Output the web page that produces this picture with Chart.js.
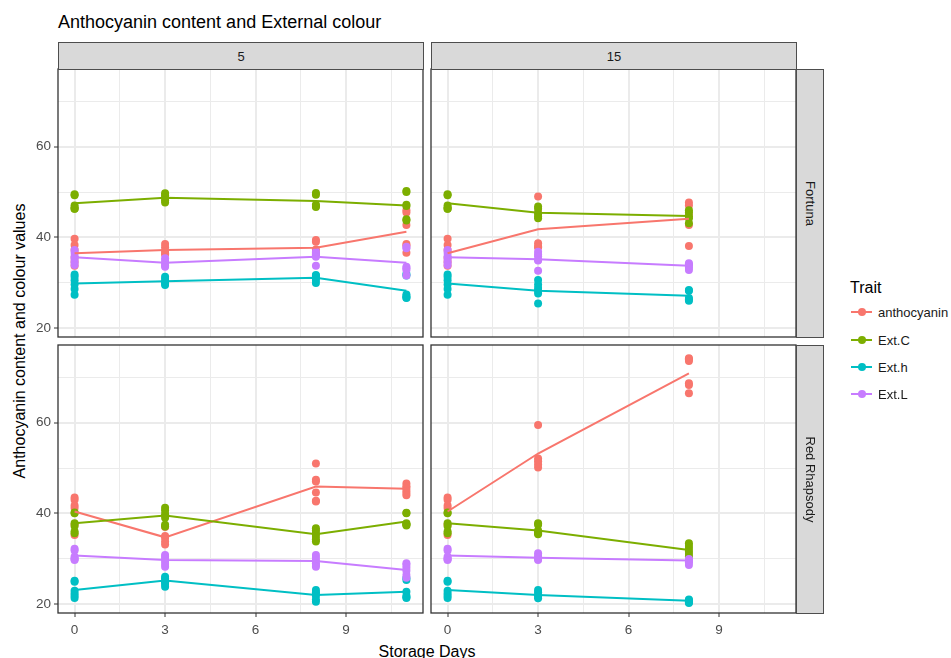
<!DOCTYPE html>
<html>
<head>
<meta charset="utf-8">
<script src="https://cdn.jsdelivr.net/npm/chart.js@4.4.0/dist/chart.umd.min.js"></script>
<style>
  html, body { margin:0; padding:0; background:#fff; }
  body { width:951px; height:658px; position:relative; overflow:hidden; font-family:"Liberation Sans", Arial, sans-serif; }
  canvas { position:absolute; }
  .txt { position:absolute; white-space:nowrap; line-height:1; }
  .strip { position:absolute; background:#D9D9D9; border:1px solid #4d4d4d; box-sizing:border-box; display:flex; align-items:center; justify-content:center; color:#1A1A1A; font-size:13px; }
  .legrow { position:absolute; left:851px; height:16px; display:flex; align-items:center; }
  .key { position:relative; width:21px; height:16px; }
  .key .ln { position:absolute; left:0; top:7px; width:21px; height:2px; }
  .key .pt { position:absolute; left:6.5px; top:4px; width:8px; height:8px; border-radius:50%; }
  .legrow span { margin-left:6px; font-size:13px; color:#1A1A1A; }
</style>
</head>
<body>
<div class="txt" style="left:58px; top:13px; font-size:18px; color:#000;">Anthocyanin content and External colour</div>
<div class="txt" style="left:427px; top:643.5px; font-size:16px; color:#000; transform:translateX(-50%);">Storage Days</div>
<div class="txt" style="left:20px; top:341px; font-size:16px; color:#000; transform:translate(-50%,-50%) rotate(-90deg);">Anthocyanin content and colour values</div>

<canvas id="cTL"></canvas>
<canvas id="cTR"></canvas>
<canvas id="cBL"></canvas>
<canvas id="cBR"></canvas>

<div class="strip" style="left:58px; top:42px; width:366px; height:28px;">5</div>
<div class="strip" style="left:431px; top:42px; width:366px; height:28px;">15</div>
<div class="strip" style="left:796px; top:69px; width:28px; height:269px;"><span style="transform:rotate(90deg); white-space:nowrap;">Fortuna</span></div>
<div class="strip" style="left:796px; top:345px; width:28px; height:269px;"><span style="transform:rotate(90deg); white-space:nowrap;">Red Rhapsody</span></div>

<div class="txt" style="left:850px; top:280px; font-size:16px; color:#000;">Trait</div>
<div id="legend"></div>

<script>
// ---------------- data ----------------
const traits = ['anthocyanin', 'Ext.C', 'Ext.h', 'Ext.L'];
const traitColors = ['#F8766D', '#7CAE00', '#00BFC4', '#C77CFF'];
const days5 = [0, 3, 8, 11];
const days15 = [0, 3, 8];
const xTickLabels = [0, 3, 6, 9];
const yTickLabels = [20, 40, 60];
const temperatures = ['5', '15'];
const cultivars = ['Fortuna', 'Red Rhapsody'];

// Fortuna, 5
const fortuna5AnthMean = [36.5, 37.2, 37.7, 41.25];
const fortuna5ExtCMean = [47.5, 48.75, 48.0, 47.0];
const fortuna5ExthMean = [29.8, 30.3, 31.1, 28.2];
const fortuna5ExtLMean = [35.6, 34.4, 35.7, 34.4];
const fortuna5AnthPts = [[39.7,38.3,37.2,35.5,34.6,33.7],[38.5,37.8,37.0,36.5,36.2],[39.4,39.0,37.3,36.6,36.2],[46.0,45.5,42.7,38.5,38.2,36.6]];
const fortuna5ExtCPts = [[49.5,49.3,47.0,46.6,46.3,46.3],[49.7,49.3,48.8,48.2,47.7],[49.8,49.4,47.2,46.9,46.7],[50.2,50.0,47.2,46.9,44.0,43.7]];
const fortuna5ExthPts = [[31.8,31.3,30.5,29.6,28.6,27.3],[31.3,30.8,30.2,29.8,29.5],[31.7,31.5,31.1,30.6,29.9],[31.9,31.6,27.4,27.0,26.7,26.6]];
const fortuna5ExtLPts = [[37.2,36.6,35.8,35.2,34.5,33.9],[35.4,34.8,34.2,33.8,33.5],[36.8,36.4,36.0,35.7,33.75],[37.9,37.6,33.5,33.2,32.8,31.6]];

// Fortuna, 15
const fortuna15AnthMean = [36.5, 41.8, 44.1];
const fortuna15ExtCMean = [47.5, 45.4, 44.7];
const fortuna15ExthMean = [29.8, 28.2, 27.1];
const fortuna15ExtLMean = [35.6, 35.15, 33.7];
const fortuna15AnthPts = [[39.7,38.3,37.2,35.5,34.6,33.7],[49.0,45.5,38.7,38.0,37.8],[47.7,47.0,45.0,42.7,38.1]];
const fortuna15ExtCPts = [[49.5,49.3,47.0,46.6,46.3,46.3],[46.8,46.3,45.2,44.6,44.2],[46.0,45.5,44.6,44.2,43.1]];
const fortuna15ExthPts = [[31.8,31.3,30.5,29.6,28.6,27.3],[30.6,29.6,28.8,28.2,27.6,25.4],[28.4,28.2,26.6,26.3,26.0]];
const fortuna15ExtLPts = [[37.2,36.6,35.8,35.2,34.5,33.9],[36.8,36.2,35.8,35.0,34.9,32.6],[34.3,34.0,33.7,33.3,32.8]];

// Red Rhapsody, 5
const rr5AnthMean = [40.4, 34.7, 45.9, 45.45];
const rr5ExtCMean = [37.8, 39.5, 35.4, 38.2];
const rr5ExthMean = [23.1, 25.15, 22.0, 22.7];
const rr5ExtLMean = [30.7, 29.7, 29.5, 27.5];
const rr5AnthPts = [[43.5,43.0,41.7,41.2,37.5,35.2],[37.0,35.0,34.6,33.8,33.1],[51.0,47.4,47.0,44.6,42.8,42.6],[46.6,46.0,45.6,45.0,44.5,44.0]];
const rr5ExtCPts = [[40.2,40.0,37.8,37.2,36.0,35.6],[41.25,40.6,39.8,39.0,37.5,37.1],[36.7,36.2,35.6,35.0,34.3,33.8],[40.1,40.0,37.8,37.6,37.5,37.3]];
const rr5ExthPts = [[25.1,24.9,22.9,22.3,21.8,21.3],[26.0,25.6,25.2,24.8,24.4,23.8],[23.1,22.6,22.2,21.8,21.0,20.5],[25.7,25.3,22.7,21.8,21.5,21.3]];
const rr5ExtLPts = [[32.2,31.8,30.4,30.0,29.9,29.7],[30.8,30.4,29.9,29.5,28.8,28.2],[30.8,30.2,29.6,29.0,28.6,28.2],[29.0,28.6,28.0,27.3,26.4,25.8]];

// Red Rhapsody, 15
const rr15AnthMean = [40.4, 53.2, 70.9];
const rr15ExtCMean = [37.8, 36.2, 31.9];
const rr15ExthMean = [23.1, 22.0, 20.7];
const rr15ExtLMean = [30.7, 30.2, 29.6];
const rr15AnthPts = [[43.5,43.0,41.7,41.2,37.5,35.2],[59.5,52.1,51.5,50.8,50.1],[74.2,74.0,73.6,68.7,68.3,66.5]];
const rr15ExtCPts = [[40.2,40.0,37.8,37.2,36.0,35.6],[37.8,37.5,36.2,35.8,35.6,35.4],[33.4,32.8,32.2,31.6,31.0,30.4]];
const rr15ExthPts = [[25.1,24.9,22.9,22.3,21.8,21.3],[23.1,22.6,22.0,21.6,21.25],[21.0,20.8,20.6,20.4,20.2]];
const rr15ExtLPts = [[32.2,31.8,30.4,30.0,29.9,29.7],[31.2,30.6,30.2,29.9,29.7],[29.9,29.7,29.5,29.2,28.6]];

// ---------------- build ----------------
const FONT = '"Liberation Sans", Arial, sans-serif';
const xMin = -0.55, xMax = 11.55, yMin = 18.0, yMax = 77.15;
const xGrid = [0, 1.5, 3, 4.5, 6, 7.5, 9, 10.5];
const yGrid = [20, 30, 40, 50, 60, 70];

function buildDatasets(days, means, pts) {
  const ds = [];
  for (let t = 0; t < traits.length; t++) {
    const p = [];
    days.forEach((d, i) => pts[t][i].forEach(v => p.push({x: d, y: v})));
    ds.push({type: 'scatter', label: traits[t], data: p, backgroundColor: traitColors[t], borderWidth: 0,
             pointRadius: 4, pointHoverRadius: 4, order: 20 - t});
  }
  for (let t = 0; t < traits.length; t++) {
    ds.push({type: 'line', label: traits[t] + ' mean', data: days.map((d, i) => ({x: d, y: means[t][i]})),
             borderColor: traitColors[t], borderWidth: 2, pointRadius: 0, pointHoverRadius: 0, fill: false,
             tension: 0, order: 10 - t});
  }
  return ds;
}

const borderPlugin = {
  id: 'panelBorder',
  afterDraw(chart) {
    const a = chart.chartArea, c = chart.ctx;
    c.save();
    c.strokeStyle = '#333333';
    c.lineWidth = 1.3;
    c.strokeRect(a.left, a.top, a.right - a.left, a.bottom - a.top);
    c.restore();
  }
};

function zeroPad(s) { s.paddingLeft = 0; s.paddingRight = 0; s.paddingTop = 0; s.paddingBottom = 0; }

function makePanel(id, rect, showX, showY, datasets) {
  const cv = document.getElementById(id);
  const cl = showY ? 0 : rect.L - 6;
  const ct = rect.T - 6;
  const cw = rect.R + 6 - cl;
  const ch = (showX ? rect.B + 34 : rect.B + 6) - ct;
  cv.width = cw; cv.height = ch;
  cv.style.left = cl + 'px'; cv.style.top = ct + 'px';
  cv.style.width = cw + 'px'; cv.style.height = ch + 'px';
  const isMajX = v => xTickLabels.includes(v);
  const isMajY = v => yTickLabels.includes(v);
  new Chart(cv, {
    type: 'scatter',
    data: {datasets},
    options: {
      animation: false, responsive: false, devicePixelRatio: 1,
      events: [],
      layout: {autoPadding: false, padding: {left: showY ? 0 : 6, right: 6, top: 6, bottom: showX ? 0 : 6}},
      plugins: {legend: {display: false}, tooltip: {enabled: false}},
      scales: {
        x: {
          type: 'linear', min: xMin, max: xMax,
          afterBuildTicks: s => { s.ticks = xGrid.map(v => ({value: v})); },
          afterFit: s => { s.height = showX ? 34 : 0; zeroPad(s); },
          border: {display: false},
          grid: {
            color: '#EBEBEB',
            lineWidth: c => (c.tick && isMajX(c.tick.value)) ? 2 : 1,
            drawTicks: showX, tickLength: 4, tickWidth: 1,
            tickColor: c => (c.tick && isMajX(c.tick.value)) ? '#333333' : 'rgba(0,0,0,0)'
          },
          ticks: {display: showX, autoSkip: false, maxRotation: 0, padding: 5, color: '#4D4D4D',
                  font: {family: FONT, size: 13.5},
                  callback: v => isMajX(v) ? String(v) : ''}
        },
        y: {
          type: 'linear', min: yMin, max: yMax,
          afterBuildTicks: s => { s.ticks = yGrid.map(v => ({value: v})); },
          afterFit: s => { s.width = showY ? rect.L : 0; zeroPad(s); },
          border: {display: false},
          grid: {
            color: '#EBEBEB',
            lineWidth: c => (c.tick && isMajY(c.tick.value)) ? 2 : 1,
            drawTicks: showY, tickLength: 4, tickWidth: 1,
            tickColor: c => (c.tick && isMajY(c.tick.value)) ? '#333333' : 'rgba(0,0,0,0)'
          },
          ticks: {display: showY, autoSkip: false, padding: 3, color: '#4D4D4D',
                  font: {family: FONT, size: 13.5},
                  callback: v => isMajY(v) ? String(v) : ''}
        }
      }
    },
    plugins: [borderPlugin]
  });
}

makePanel('cTL', {L: 58, T: 69, R: 423, B: 337}, false, true,
  buildDatasets(days5, [fortuna5AnthMean, fortuna5ExtCMean, fortuna5ExthMean, fortuna5ExtLMean],
                       [fortuna5AnthPts, fortuna5ExtCPts, fortuna5ExthPts, fortuna5ExtLPts]));
makePanel('cTR', {L: 431, T: 69, R: 796, B: 337}, false, false,
  buildDatasets(days15, [fortuna15AnthMean, fortuna15ExtCMean, fortuna15ExthMean, fortuna15ExtLMean],
                        [fortuna15AnthPts, fortuna15ExtCPts, fortuna15ExthPts, fortuna15ExtLPts]));
makePanel('cBL', {L: 58, T: 345, R: 423, B: 613}, true, true,
  buildDatasets(days5, [rr5AnthMean, rr5ExtCMean, rr5ExthMean, rr5ExtLMean],
                       [rr5AnthPts, rr5ExtCPts, rr5ExthPts, rr5ExtLPts]));
makePanel('cBR', {L: 431, T: 345, R: 796, B: 613}, true, false,
  buildDatasets(days15, [rr15AnthMean, rr15ExtCMean, rr15ExthMean, rr15ExtLMean],
                        [rr15AnthPts, rr15ExtCPts, rr15ExthPts, rr15ExtLPts]));

// legend
const leg = document.getElementById('legend');
const legY = [312.3, 340, 367.3, 394];
traits.forEach((t, i) => {
  const row = document.createElement('div');
  row.className = 'legrow';
  row.style.top = (legY[i] - 8) + 'px';
  row.innerHTML = '<div class="key"><div class="ln" style="background:' + traitColors[i] + '"></div>' +
                  '<div class="pt" style="background:' + traitColors[i] + '"></div></div><span>' + t + '</span>';
  leg.appendChild(row);
});
</script>
</body>
</html>
